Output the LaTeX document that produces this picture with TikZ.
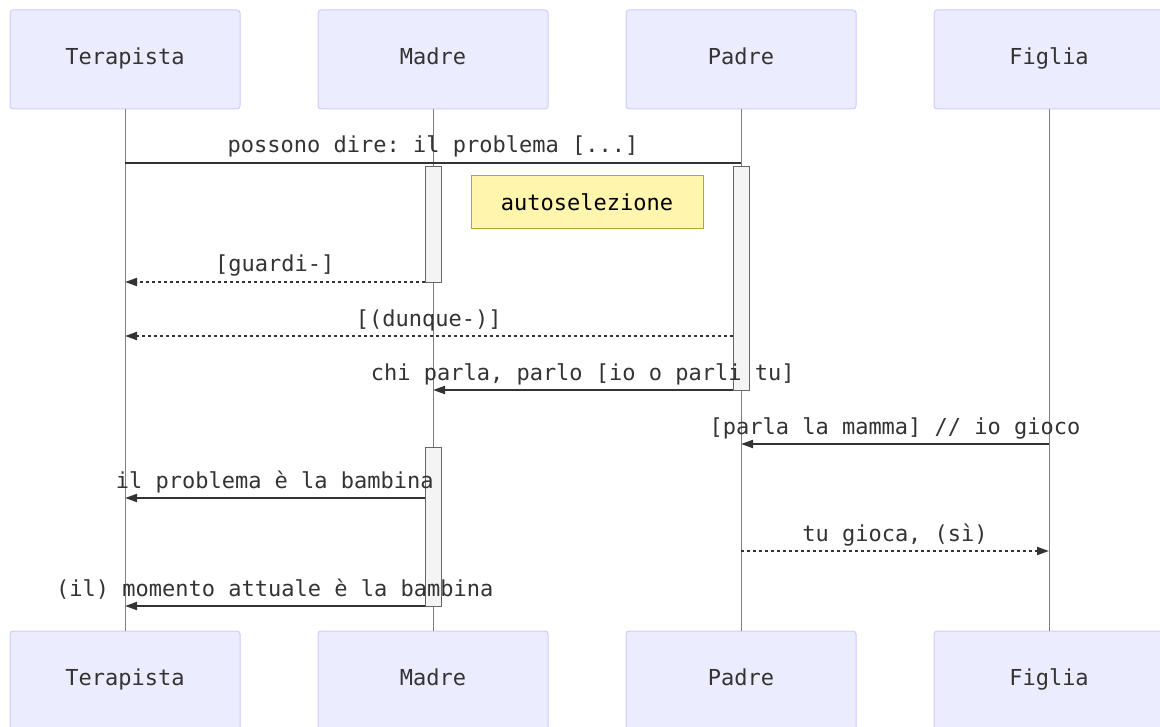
\documentclass[tikz,border=0pt]{standalone}
\usepackage{fontspec}
\setmonofont{DejaVu Sans Mono}
\usetikzlibrary{arrows.meta}
\definecolor{actorfill}{HTML}{ECECFF}
\definecolor{actorline}{HTML}{CCCCFF}
\definecolor{lifegray}{HTML}{808080}
\definecolor{msggray}{HTML}{333333}
\definecolor{notefill}{HTML}{FFF5AD}
\definecolor{noteline}{HTML}{AAAA33}
\definecolor{actfill}{HTML}{F4F4F4}
\definecolor{actline}{HTML}{666666}

\begin{document}
\begin{tikzpicture}[x=0.75pt, y=-0.75pt, font=\ttfamily\fontsize{16.5}{19}\selectfont]
\tikzstyle{actor} = [draw=actorline, fill=actorfill, rounded corners=2.25pt, line width=0.75pt, minimum width=172.5pt, minimum height=74.25pt, text height=10pt, text depth=3pt, text=msggray]
\tikzstyle{life} = [draw=lifegray, line width=0.75pt]
\tikzstyle{activ} = [draw=actline, fill=actfill, line width=0.75pt, minimum width=12pt, inner sep=0pt]
\tikzstyle{msg} = [draw=msggray, line width=1.5pt]
\tikzstyle{reply} = [msg, dash pattern=on 2.25pt off 2.25pt]
\tikzstyle{tip} = [-{Triangle[length=9pt, width=6pt]}]
\tikzstyle{lbl} = [anchor=base, inner sep=0pt, text=msggray, yshift=7.5pt]
\tikzstyle{note} = [draw=noteline, fill=notefill, line width=0.75pt, minimum width=174pt, minimum height=39.75pt, text=black]

\useasboundingbox (0,0) rectangle (1160,727);

% actors
\node [actor] (terapista) at (125,59.5) {Terapista};
\node [actor] (madre) at (433,59.5) {Madre};
\node [actor] (padre) at (741,59.5) {Padre};
\node [actor] (figlia) at (1049,59.5) {Figlia};
\node [actor] (terapistab) at (125,680.5) {Terapista};
\node [actor] (madreb) at (433,680.5) {Madre};
\node [actor] (padreb) at (741,680.5) {Padre};
\node [actor] (figliab) at (1049,680.5) {Figlia};

\draw [life] (terapista) -- (terapistab);
\draw [life] (madre) -- (madreb);
\draw [life] (padre) -- (padreb);
\draw [life] (figlia) -- (figliab);

% activations
\node [activ, minimum height=87pt] (actM1) at (433,225) {};
\node [activ, minimum height=167.25pt] (actP) at (741,278.5) {};
\node [activ, minimum height=119.25pt] (actM2) at (433,526.5) {};

\node [note] (auto) at (587,202.5) {autoselezione\hspace{7pt}};

% message rows
\coordinate (r1) at (0,163);
\coordinate (r2) at (0,282);
\coordinate (r3) at (0,336);
\coordinate (r4) at (0,390);
\coordinate (r5) at (0,444);
\coordinate (r6) at (0,498);
\coordinate (r7) at (0,551);
\coordinate (r8) at (0,606);

\draw [msg] (r1 -| padre) -- (r1 -| terapista) node [lbl, midway] {possono dire: il problema [...]};
\draw [reply, tip] (r2 -| actM1.west) -- (r2 -| terapista) node [lbl, midway] {[guardi-]};
\draw [reply, tip] (r3 -| actP.west) -- (r3 -| terapista) node [lbl, midway] {[(dunque-)]};
\draw [msg, tip] (r4 -| actP.west) -- (r4 -| madre) node [lbl, midway] {chi parla, parlo [io o parli tu]};
\draw [msg, tip] (r5 -| figlia) -- (r5 -| padre) node [lbl, midway] {[parla la mamma] // io gioco};
\draw [msg, tip] (r6 -| actM2.west) -- (r6 -| terapista) node [lbl, midway] {il problema è la bambina};
\draw [reply, tip] (r7 -| padre) -- (r7 -| figlia) node [lbl, midway] {tu gioca, (sì)};
\draw [msg, tip] (r8 -| actM2.west) -- (r8 -| terapista) node [lbl, midway] {(il) momento attuale è la bambina};
\end{tikzpicture}
\end{document}
